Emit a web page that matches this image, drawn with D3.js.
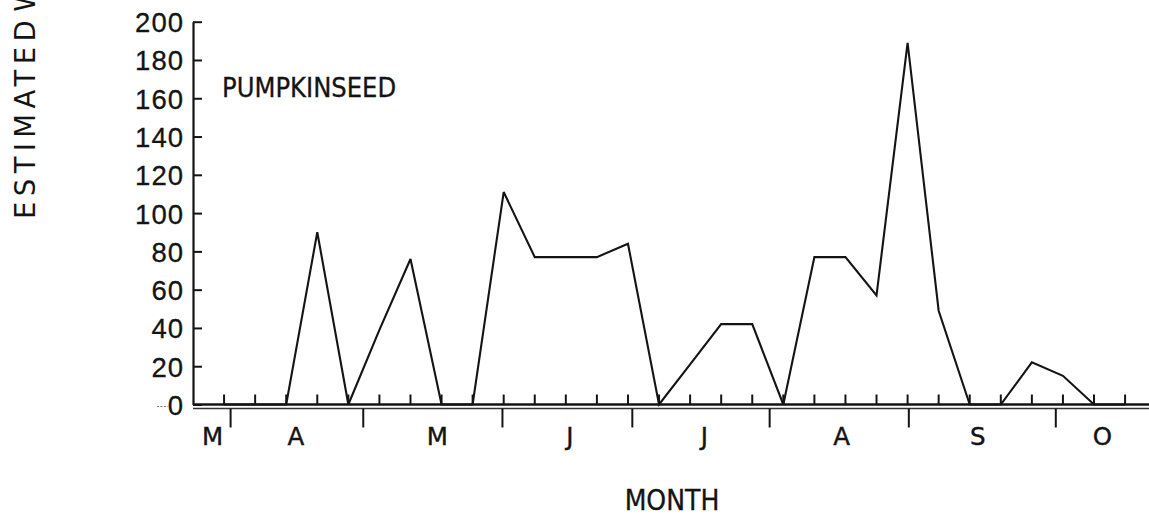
<!DOCTYPE html>
<html>
<head>
<meta charset="utf-8">
<script src="https://cdn.jsdelivr.net/npm/d3@7"></script>
<style>
  html, body { margin: 0; padding: 0; background: #fff; }
  svg { display: block; }
</style>
</head>
<body>
<svg id="chart" width="1149" height="519"></svg>
<script>
// Weekly sampling index (weeks from the start of the axis) and the estimated values
const weeks = [1, 2, 3, 4, 5, 6, 7, 8, 9, 10, 11, 12, 13, 14, 15, 16, 17, 18, 19, 20,
               21, 22, 23, 24, 25, 26, 27, 28, 29, 30];
const pumpkinseed = [0, 0, 0, 90, 0, 39, 76, 0, 0, 111, 77, 77, 77, 84, 0, 21, 42, 42, 0, 77,
                     77, 57, 189, 49, 0, 0, 22, 15, 0, 0];

// Month boundaries and month label positions, in the same week units
const monthBoundaries = [1.21, 5.48, 9.96, 14.14, 18.56, 23.04, 27.77];
const monthLabels = ["M", "A", "M", "J", "J", "A", "S", "O"];
const monthLabelAt = [0.63, 3.31, 7.86, 12.13, 16.46, 20.88, 25.26, 29.27];

// Value axis ticks
const yTicks = [0, 20, 40, 60, 80, 100, 120, 140, 160, 180, 200];

const seriesName = "PUMPKINSEED";
const xTitle = "MONTH";
const yTitle = "ESTIMATED W";

const ink = "#141414";
const svg = d3.select("#chart");

const x = d3.scaleLinear().domain([0, 30.77]).range([193, 1149]);
const y = d3.scaleLinear().domain([0, 200]).range([404.5, 21.7]);

// ---- value axis: ticks point into the plot, labels on the left
const yAxis = d3.axisLeft(y)
  .tickValues(yTicks)
  .tickSizeInner(-9)
  .tickSizeOuter(0)
  .tickPadding(9)
  .tickFormat(d3.format("d"));

const gy = svg.append("g")
  .attr("transform", `translate(${x(0)},0)`)
  .call(yAxis);
gy.select(".domain").attr("stroke", ink).attr("stroke-width", 2.2);
gy.selectAll(".tick line").attr("stroke", ink).attr("stroke-width", 2);
gy.selectAll(".tick text")
  .attr("fill", ink)
  .attr("font-family", "'Liberation Sans', Arial, sans-serif")
  .attr("font-size", 27.5)
  .attr("letter-spacing", 1)
  .attr("stroke", ink)
  .attr("stroke-width", 0.3)
  .attr("dy", "0.36em");

// small dotted lead-in left of the zero label
svg.append("line")
  .attr("x1", 157).attr("x2", 168)
  .attr("y1", y(0) + 2).attr("y2", y(0) + 2)
  .attr("stroke", "#777").attr("stroke-width", 1.2)
  .attr("stroke-dasharray", "2,1.5");

// ---- time axis: double base line
svg.append("line")
  .attr("x1", x(0)).attr("x2", 1149)
  .attr("y1", y(0)).attr("y2", y(0))
  .attr("stroke", ink).attr("stroke-width", 2.6);
svg.append("line")
  .attr("x1", x(0)).attr("x2", 1149)
  .attr("y1", y(0) + 4).attr("y2", y(0) + 4)
  .attr("stroke", "#333").attr("stroke-width", 1.6);

// weekly ticks above the axis
svg.append("g").selectAll("line")
  .data(weeks)
  .join("line")
  .attr("x1", d => x(d)).attr("x2", d => x(d))
  .attr("y1", y(0)).attr("y2", y(0) - 10)
  .attr("stroke", ink).attr("stroke-width", 2);

// month boundary ticks below the axis
svg.append("g").selectAll("line")
  .data(monthBoundaries)
  .join("line")
  .attr("x1", d => x(d)).attr("x2", d => x(d))
  .attr("y1", y(0) + 4).attr("y2", y(0) + 23)
  .attr("stroke", ink).attr("stroke-width", 2);

// month letters
svg.append("g").selectAll("text")
  .data(monthLabels)
  .join("text")
  .attr("x", (d, i) => x(monthLabelAt[i]))
  .attr("y", 445)
  .attr("text-anchor", "middle")
  .attr("fill", ink)
  .attr("stroke", ink)
  .attr("stroke-width", 0.4)
  .attr("font-family", "'DejaVu Sans', sans-serif")
  .attr("font-size", 24.5)
  .text(d => d);

// ---- the series
const line = d3.line()
  .x((d, i) => x(weeks[i]))
  .y(d => y(d));

svg.append("path")
  .datum(pumpkinseed)
  .attr("d", line)
  .attr("fill", "none")
  .attr("stroke", ink)
  .attr("stroke-width", 2.1)
  .attr("stroke-linejoin", "miter")
  .attr("stroke-miterlimit", 3);

// ---- titles
svg.append("text")
  .attr("x", 222).attr("y", 97)
  .attr("fill", ink)
  .attr("stroke", ink)
  .attr("stroke-width", 0.3)
  .attr("font-family", "'DejaVu Sans Condensed', 'DejaVu Sans', sans-serif")
  .attr("font-stretch", "condensed")
  .attr("font-size", 27)
  .text(seriesName);

svg.append("text")
  .attr("x", 672).attr("y", 510)
  .attr("text-anchor", "middle")
  .attr("fill", ink)
  .attr("stroke", ink)
  .attr("stroke-width", 0.3)
  .attr("font-family", "'DejaVu Sans Condensed', 'DejaVu Sans', sans-serif")
  .attr("font-stretch", "condensed")
  .attr("font-size", 28)
  .text(xTitle);

svg.append("text")
  .attr("transform", "translate(35,219) rotate(-90)")
  .attr("fill", ink)
  .attr("font-family", "'DejaVu Sans', sans-serif")
  .attr("font-size", 27.5)
  .attr("letter-spacing", 5.4)
  .attr("word-spacing", -11)
  .text(yTitle);
</script>
</body>
</html>
